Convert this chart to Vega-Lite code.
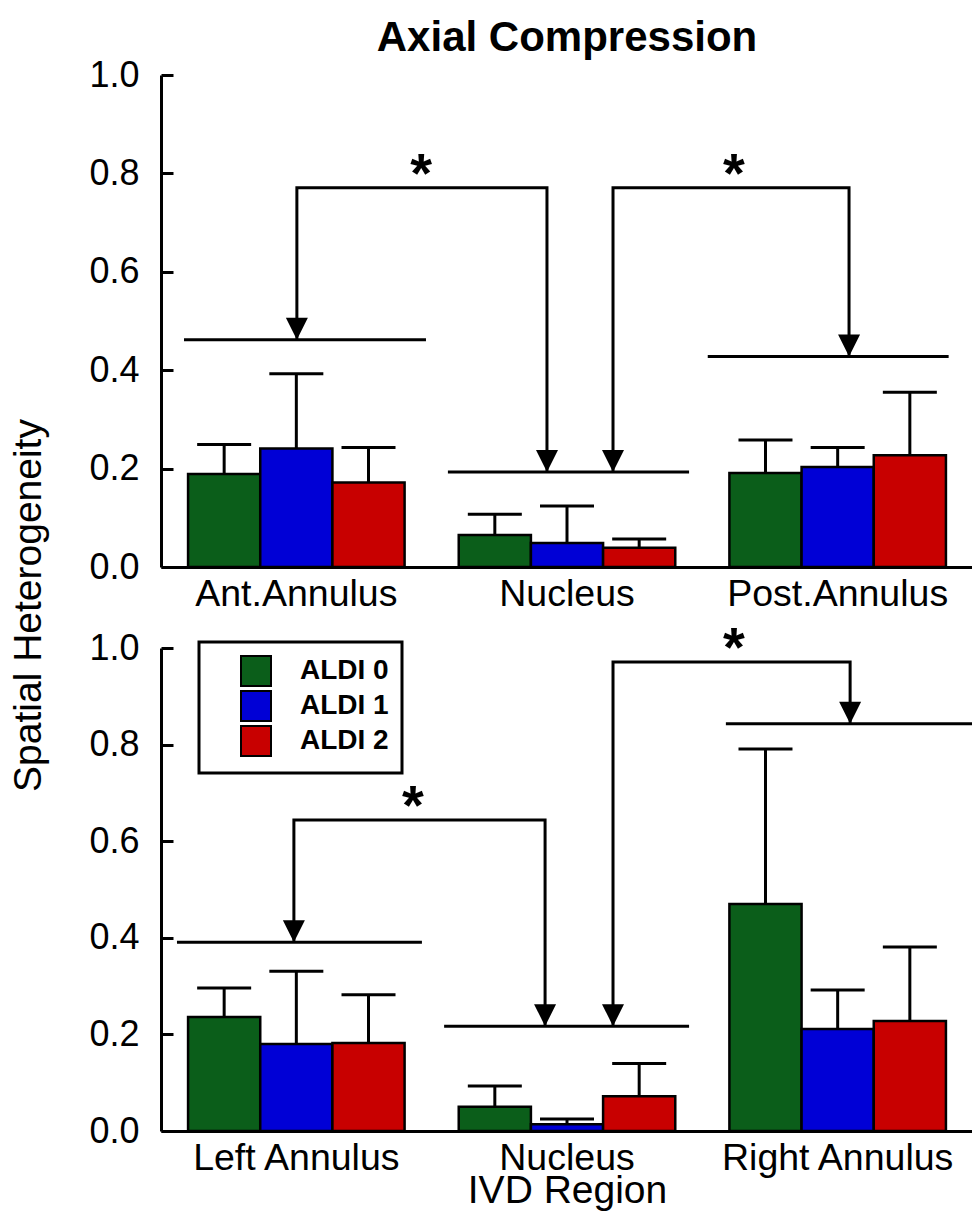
{
  "$schema": "https://vega.github.io/schema/vega-lite/v6.json",
  "padding": {"left": 9, "top": 17, "right": 0, "bottom": 60},
  "bounds": "flush",
  "spacing": 81,
  "config": {
    "view": {"stroke": null},
    "font": "Liberation Sans",
    "axis": {
      "labelFont": "Liberation Sans", "labelFontSize": 36, "labelColor": "black", "labelLimit": 500,
      "titleFont": "Liberation Sans", "titleFontSize": 39, "titleFontWeight": "normal", "titleColor": "black",
      "domainColor": "black", "domainWidth": 3, "tickColor": "black", "tickWidth": 3, "grid": false
    },
    "axisX": {"ticks": false, "labelAngle": 0, "labelPadding": 8, "labelFontSize": 37.5},
    "axisY": {"tickSize": -12, "labelPadding": 34}
  },
  "datasets": {
    "top": [
      {"region": "Ant.Annulus", "ALDI": "ALDI 0", "mean": 0.189, "upper": 0.249},
      {"region": "Ant.Annulus", "ALDI": "ALDI 1", "mean": 0.241, "upper": 0.393},
      {"region": "Ant.Annulus", "ALDI": "ALDI 2", "mean": 0.172, "upper": 0.243},
      {"region": "Nucleus", "ALDI": "ALDI 0", "mean": 0.065, "upper": 0.107},
      {"region": "Nucleus", "ALDI": "ALDI 1", "mean": 0.049, "upper": 0.124},
      {"region": "Nucleus", "ALDI": "ALDI 2", "mean": 0.039, "upper": 0.057},
      {"region": "Post.Annulus", "ALDI": "ALDI 0", "mean": 0.191, "upper": 0.258},
      {"region": "Post.Annulus", "ALDI": "ALDI 1", "mean": 0.203, "upper": 0.243},
      {"region": "Post.Annulus", "ALDI": "ALDI 2", "mean": 0.227, "upper": 0.355}
    ],
    "bottom": [
      {"region": "Left Annulus", "ALDI": "ALDI 0", "mean": 0.236, "upper": 0.296},
      {"region": "Left Annulus", "ALDI": "ALDI 1", "mean": 0.180, "upper": 0.331},
      {"region": "Left Annulus", "ALDI": "ALDI 2", "mean": 0.182, "upper": 0.282},
      {"region": "Nucleus", "ALDI": "ALDI 0", "mean": 0.050, "upper": 0.093},
      {"region": "Nucleus", "ALDI": "ALDI 1", "mean": 0.014, "upper": 0.025},
      {"region": "Nucleus", "ALDI": "ALDI 2", "mean": 0.072, "upper": 0.140},
      {"region": "Right Annulus", "ALDI": "ALDI 0", "mean": 0.470, "upper": 0.791},
      {"region": "Right Annulus", "ALDI": "ALDI 1", "mean": 0.211, "upper": 0.292},
      {"region": "Right Annulus", "ALDI": "ALDI 2", "mean": 0.228, "upper": 0.381}
    ],
    "sigTop": [
      {"x": 0.085, "x2": 0.979, "y": 0.462},
      {"x": 1.06, "x2": 1.951, "y": 0.193},
      {"x": 2.02, "x2": 2.91, "y": 0.428}
    ],
    "bracketTop": [
      {"id": 1, "ord": 1, "x": 0.502, "y": 0.462},
      {"id": 1, "ord": 2, "x": 0.502, "y": 0.771},
      {"id": 1, "ord": 3, "x": 1.426, "y": 0.771},
      {"id": 1, "ord": 4, "x": 1.426, "y": 0.193},
      {"id": 2, "ord": 1, "x": 1.67, "y": 0.193},
      {"id": 2, "ord": 2, "x": 1.67, "y": 0.771},
      {"id": 2, "ord": 3, "x": 2.542, "y": 0.771},
      {"id": 2, "ord": 4, "x": 2.542, "y": 0.428}
    ],
    "arrowTop": [
      {"x": 0.502, "y": 0.462},
      {"x": 1.426, "y": 0.193},
      {"x": 1.67, "y": 0.193},
      {"x": 2.542, "y": 0.428}
    ],
    "starTop": [
      {"x": 0.961, "y": 0.771, "label": "*"},
      {"x": 2.117, "y": 0.771, "label": "*"}
    ],
    "sigBottom": [
      {"x": 0.059, "x2": 0.964, "y": 0.391},
      {"x": 1.046, "x2": 1.951, "y": 0.217},
      {"x": 2.087, "x2": 3.0, "y": 0.843}
    ],
    "bracketBottom": [
      {"id": 1, "ord": 1, "x": 0.491, "y": 0.391},
      {"id": 1, "ord": 2, "x": 0.491, "y": 0.644},
      {"id": 1, "ord": 3, "x": 1.419, "y": 0.644},
      {"id": 1, "ord": 4, "x": 1.419, "y": 0.217},
      {"id": 2, "ord": 1, "x": 1.67, "y": 0.217},
      {"id": 2, "ord": 2, "x": 1.67, "y": 0.971},
      {"id": 2, "ord": 3, "x": 2.546, "y": 0.971},
      {"id": 2, "ord": 4, "x": 2.546, "y": 0.843}
    ],
    "arrowBottom": [
      {"x": 0.491, "y": 0.391},
      {"x": 1.419, "y": 0.217},
      {"x": 1.67, "y": 0.217},
      {"x": 2.546, "y": 0.843}
    ],
    "starBottom": [
      {"x": 0.931, "y": 0.644, "label": "*"},
      {"x": 2.117, "y": 0.971, "label": "*"}
    ]
  },
  "resolve": {"legend": {"color": "independent"}},
  "vconcat": [
    {
      "width": 812,
      "height": 492,
      "title": {"text": "Axial Compression", "fontSize": 42, "fontWeight": "bold", "font": "Liberation Sans", "color": "black", "anchor": "middle", "baseline": "alphabetic", "offset": -36},
      "resolve": {"scale": {"x": "independent"}},
      "layer": [
        {
          "data": {"name": "top"},
          "encoding": {
            "x": {"field": "region", "type": "nominal", "sort": null, "title": null, "scale": {"paddingInner": 0.2, "paddingOuter": 0.1}},
            "xOffset": {"field": "ALDI", "type": "nominal"},
            "y": {"field": "mean", "type": "quantitative", "scale": {"domain": [0, 1]},
              "axis": {"orient": "left", "title": "Spatial Heterogeneity", "values": [0, 0.2, 0.4, 0.6, 0.8, 1.0], "format": ".1f", "titleX": -121, "titleY": 530, "titleAlign": "center", "titleBaseline": "alphabetic", "titleAngle": -90}}
          },
          "layer": [
            {
              "mark": {"type": "rule", "color": "black", "strokeWidth": 3},
              "encoding": {"y2": {"field": "upper"}}
            },
            {
              "mark": {"type": "tick", "color": "black", "thickness": 3, "size": 54, "orient": "horizontal", "opacity": 1},
              "encoding": {
                "y": {"field": "upper", "type": "quantitative", "scale": {"domain": [0, 1]}}
              }
            },
            {
              "mark": {"type": "bar", "stroke": "black", "strokeWidth": 2.5, "opacity": 1},
              "encoding": {
                "color": {"field": "ALDI", "type": "nominal", "scale": {"domain": ["ALDI 0", "ALDI 1", "ALDI 2"], "range": ["#0b5e1a", "#0000d6", "#c80000"]}, "legend": null}
              }
            }
          ]
        },
        {
          "data": {"name": "sigTop"},
          "mark": {"type": "rule", "color": "black", "strokeWidth": 3},
          "encoding": {
            "x": {"field": "x", "type": "quantitative", "scale": {"domain": [0, 3]}, "axis": null},
            "x2": {"field": "x2"},
            "y": {"field": "y", "type": "quantitative", "scale": {"domain": [0, 1]}}
          }
        },
        {
          "data": {"name": "bracketTop"},
          "mark": {"type": "line", "color": "black", "strokeWidth": 3, "strokeJoin": "miter"},
          "encoding": {
            "x": {"field": "x", "type": "quantitative", "scale": {"domain": [0, 3]}, "axis": null},
            "y": {"field": "y", "type": "quantitative", "scale": {"domain": [0, 1]}},
            "detail": {"field": "id", "type": "nominal"},
            "order": {"field": "ord", "type": "quantitative"}
          }
        },
        {
          "data": {"name": "arrowTop"},
          "mark": {"type": "point", "shape": "M-0.5,-1L0.5,-1L0,0Z", "size": 1936, "filled": true, "color": "black", "opacity": 1, "strokeWidth": 0},
          "encoding": {
            "x": {"field": "x", "type": "quantitative", "scale": {"domain": [0, 3]}, "axis": null},
            "y": {"field": "y", "type": "quantitative", "scale": {"domain": [0, 1]}}
          }
        },
        {
          "data": {"name": "starTop"},
          "mark": {"type": "text", "fontSize": 56, "fontWeight": "bold", "font": "Liberation Sans", "color": "black", "baseline": "alphabetic", "align": "center", "dy": 4},
          "encoding": {
            "x": {"field": "x", "type": "quantitative", "scale": {"domain": [0, 3]}, "axis": null},
            "y": {"field": "y", "type": "quantitative", "scale": {"domain": [0, 1]}},
            "text": {"field": "label"}
          }
        }
      ]
    },
    {
      "width": 812,
      "height": 483,
      "resolve": {"scale": {"x": "independent"}},
      "layer": [
        {
          "data": {"name": "bottom"},
          "encoding": {
            "x": {"field": "region", "type": "nominal", "sort": null, "scale": {"paddingInner": 0.2, "paddingOuter": 0.1}, "axis": {"title": "IVD Region", "titlePadding": -5}},
            "xOffset": {"field": "ALDI", "type": "nominal"},
            "y": {"field": "mean", "type": "quantitative", "scale": {"domain": [0, 1]},
              "axis": {"orient": "left", "title": null, "values": [0, 0.2, 0.4, 0.6, 0.8, 1.0], "format": ".1f"}}
          },
          "layer": [
            {
              "mark": {"type": "rule", "color": "black", "strokeWidth": 3},
              "encoding": {"y2": {"field": "upper"}}
            },
            {
              "mark": {"type": "tick", "color": "black", "thickness": 3, "size": 54, "orient": "horizontal", "opacity": 1},
              "encoding": {
                "y": {"field": "upper", "type": "quantitative", "scale": {"domain": [0, 1]}}
              }
            },
            {
              "mark": {"type": "bar", "stroke": "black", "strokeWidth": 2.5, "opacity": 1},
              "encoding": {
                "color": {"field": "ALDI", "type": "nominal", "scale": {"domain": ["ALDI 0", "ALDI 1", "ALDI 2"], "range": ["#0b5e1a", "#0000d6", "#c80000"]},
                  "legend": {"title": null, "orient": "none", "legendX": 38, "legendY": -6, "symbolType": "square", "symbolSize": 900, "symbolStrokeColor": "black", "symbolStrokeWidth": 2, "symbolOpacity": 1, "symbolOffset": 28, "labelFont": "Liberation Sans", "labelFontSize": 28, "labelFontWeight": "bold", "labelColor": "black", "labelOffset": 28, "rowPadding": -4, "padding": 13, "strokeColor": "black",
                    "encode": {"legend": {"update": {"strokeWidth": {"value": 3}}}}}}
              }
            }
          ]
        },
        {
          "data": {"name": "sigBottom"},
          "mark": {"type": "rule", "color": "black", "strokeWidth": 3},
          "encoding": {
            "x": {"field": "x", "type": "quantitative", "scale": {"domain": [0, 3]}, "axis": null},
            "x2": {"field": "x2"},
            "y": {"field": "y", "type": "quantitative", "scale": {"domain": [0, 1]}}
          }
        },
        {
          "data": {"name": "bracketBottom"},
          "mark": {"type": "line", "color": "black", "strokeWidth": 3, "strokeJoin": "miter"},
          "encoding": {
            "x": {"field": "x", "type": "quantitative", "scale": {"domain": [0, 3]}, "axis": null},
            "y": {"field": "y", "type": "quantitative", "scale": {"domain": [0, 1]}},
            "detail": {"field": "id", "type": "nominal"},
            "order": {"field": "ord", "type": "quantitative"}
          }
        },
        {
          "data": {"name": "arrowBottom"},
          "mark": {"type": "point", "shape": "M-0.5,-1L0.5,-1L0,0Z", "size": 1936, "filled": true, "color": "black", "opacity": 1, "strokeWidth": 0},
          "encoding": {
            "x": {"field": "x", "type": "quantitative", "scale": {"domain": [0, 3]}, "axis": null},
            "y": {"field": "y", "type": "quantitative", "scale": {"domain": [0, 1]}}
          }
        },
        {
          "data": {"name": "starBottom"},
          "mark": {"type": "text", "fontSize": 56, "fontWeight": "bold", "font": "Liberation Sans", "color": "black", "baseline": "alphabetic", "align": "center", "dy": 4},
          "encoding": {
            "x": {"field": "x", "type": "quantitative", "scale": {"domain": [0, 3]}, "axis": null},
            "y": {"field": "y", "type": "quantitative", "scale": {"domain": [0, 1]}},
            "text": {"field": "label"}
          }
        }
      ]
    }
  ]
}
